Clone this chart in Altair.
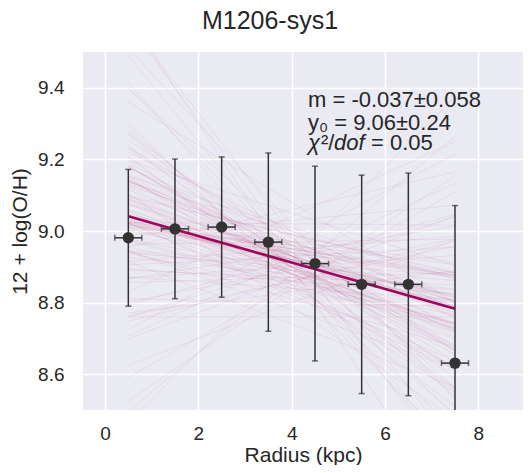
import altair as alt
import pandas as pd

# ---- data ----
radius = [0.5, 1.5, 2.5, 3.5, 4.5, 5.5, 6.5, 7.5]
oh = [8.981, 9.006, 9.011, 8.969, 8.909, 8.851, 8.851, 8.631]
oh_err = [0.191, 0.195, 0.196, 0.249, 0.272, 0.305, 0.311, 0.440]
r_err = [0.29, 0.29, 0.29, 0.29, 0.29, 0.29, 0.29, 0.29]

fit_slope = -0.037
fit_y0 = 9.06
fit_range = [0.5, 7.5]

# posterior sample lines: slope and value at r = 4 kpc
sample_slope = [
    -0.037, -0.052, -0.021, -0.064, -0.009, -0.045, -0.078, 0.004, -0.031, -0.098,
    -0.015, -0.058, 0.021, -0.041, -0.070, -0.027, 0.036, -0.049, -0.112, -0.003,
    -0.060, -0.034, 0.012, -0.086, -0.019, -0.044, 0.049, -0.072, -0.029, -0.055,
    -0.131, -0.011, -0.039, 0.028, -0.066, -0.024, -0.093, 0.007, -0.047, -0.016,
    -0.081, -0.035, 0.061, -0.053, -0.006, -0.068, -0.026, -0.150, 0.017, -0.042,
    -0.075, -0.013, -0.057, 0.040, -0.033, -0.089, -0.001, -0.062, -0.022, -0.106,
    0.025, -0.048, -0.038, -0.071, 0.009, -0.030, -0.121, -0.018, -0.051, 0.074,
    -0.084, -0.040, -0.010, -0.063, 0.032, -0.046, -0.097, -0.028, 0.002, -0.056,
    -0.180, 0.090, -0.140, 0.050, -0.120, 0.110, -0.160, 0.030, -0.100, 0.070,
    -0.200, 0.000, -0.080, 0.130, -0.050, -0.130, 0.060, -0.170, 0.010, -0.090,
    -0.035, -0.045, -0.025, -0.055, -0.040, -0.030, -0.050, -0.020, -0.060, -0.015,
    -0.070, -0.010, -0.036, -0.043, -0.028, -0.052, -0.039, -0.047, -0.032, -0.041,
]
sample_at4 = [
    8.92, 8.88, 8.95, 8.90, 8.84, 8.97, 8.91, 8.87, 8.99, 8.93,
    8.89, 8.82, 8.94, 9.01, 8.90, 8.86, 8.92, 8.96, 8.88, 8.80,
    8.93, 8.91, 9.03, 8.85, 8.95, 8.89, 8.87, 8.98, 8.92, 8.83,
    8.94, 8.90, 9.00, 8.86, 8.91, 8.96, 8.88, 8.93, 8.78, 8.97,
    8.90, 8.85, 8.92, 8.99, 8.87, 8.94, 8.91, 8.89, 8.83, 9.05,
    8.93, 8.88, 8.96, 8.90, 8.86, 8.92, 9.02, 8.84, 8.95, 8.91,
    8.89, 8.97, 8.81, 8.93, 8.90, 8.99, 8.87, 8.94, 8.92, 8.85,
    8.96, 8.88, 8.91, 9.00, 8.86, 8.93, 8.90, 8.84, 8.97, 8.92,
    8.95, 8.84, 9.02, 8.80, 8.98, 8.88, 8.93, 9.06, 8.86, 8.97,
    8.90, 8.76, 9.08, 8.92, 8.74, 8.85, 9.04, 8.99, 8.95, 8.79,
    8.91, 8.93, 8.89, 8.95, 8.87, 8.92, 8.90, 8.94, 8.88, 8.96,
    8.91, 8.86, 8.93, 8.89, 8.92, 8.90, 8.94, 8.88, 8.91, 8.93,
]

x_ticks = [0, 2, 4, 6, 8]
y_ticks = [8.6, 8.8, 9.0, 9.2, 9.4]

# ---- tables ----
pts = pd.DataFrame({"r": radius, "oh": oh, "oe": oh_err, "re": r_err})
pts["lo"] = pts["oh"] - pts["oe"]
pts["hi"] = pts["oh"] + pts["oe"]
pts["rl"] = pts["r"] - pts["re"]
pts["rh"] = pts["r"] + pts["re"]

samp = pd.DataFrame({"m": sample_slope, "c": sample_at4})
samp["x1"] = fit_range[0]
samp["x2"] = fit_range[1]
samp["y1"] = samp["c"] + samp["m"] * (fit_range[0] - 4)
samp["y2"] = samp["c"] + samp["m"] * (fit_range[1] - 4)

fit = pd.DataFrame({"r": fit_range})
fit["y"] = fit_y0 + fit_slope * fit["r"]

FONT = "Liberation Sans"
TXT = "#262626"
LINE = "#A1045C"
PT = "#333333"

W, H = 440, 358

xs = alt.Scale(domain=[-0.471, 8.957], nice=False, zero=False)
ys = alt.Scale(domain=[8.5, 9.5], nice=False, zero=False)

xax = alt.Axis(values=x_ticks, format="d", title="Radius (kpc)", labelPadding=14,
               titleBaseline="alphabetic", titleY=51)
yax = alt.Axis(values=y_ticks, format=".1f", title="12 + log(O/H)", labelPadding=19,
               titleBaseline="middle", titleX=-63)

samples = alt.Chart(samp).mark_rule(color=LINE, opacity=0.065, strokeWidth=1, clip=True).encode(
    x=alt.X("x1:Q", scale=xs, axis=xax),
    y=alt.Y("y1:Q", scale=ys, axis=yax),
    x2="x2:Q",
    y2="y2:Q",
)

fitline = alt.Chart(fit).mark_line(color=LINE, strokeWidth=2.6, clip=True).encode(
    x=alt.X("r:Q", scale=xs),
    y=alt.Y("y:Q", scale=ys),
)

base = alt.Chart(pts)
vbar = base.mark_rule(color=PT, strokeWidth=1.5, clip=True).encode(
    x=alt.X("r:Q", scale=xs), y=alt.Y("lo:Q", scale=ys), y2="hi:Q"
)
hbar = base.mark_rule(color=PT, strokeWidth=1.5, clip=True).encode(
    x=alt.X("rl:Q", scale=xs), x2="rh:Q", y=alt.Y("oh:Q", scale=ys)
)
cap_lo = base.mark_tick(color=PT, size=6, thickness=1.5, orient="horizontal", clip=True).encode(
    x=alt.X("r:Q", scale=xs), y=alt.Y("lo:Q", scale=ys)
)
cap_hi = base.mark_tick(color=PT, size=6, thickness=1.5, orient="horizontal", clip=True).encode(
    x=alt.X("r:Q", scale=xs), y=alt.Y("hi:Q", scale=ys)
)
cap_l = base.mark_tick(color=PT, size=6, thickness=1.5, orient="vertical", clip=True).encode(
    x=alt.X("rl:Q", scale=xs), y=alt.Y("oh:Q", scale=ys)
)
cap_r = base.mark_tick(color=PT, size=6, thickness=1.5, orient="vertical", clip=True).encode(
    x=alt.X("rh:Q", scale=xs), y=alt.Y("oh:Q", scale=ys)
)
dots = base.mark_circle(color=PT, size=130, opacity=1).encode(
    x=alt.X("r:Q", scale=xs), y=alt.Y("oh:Q", scale=ys)
)


def label(txt, px, py, italic=False, size=22, align="left"):
    return alt.Chart(pd.DataFrame({"t": [txt]})).mark_text(
        align=align, baseline="alphabetic", font=FONT, fontSize=size, color=TXT,
        fontStyle="italic" if italic else "normal",
    ).encode(text="t:N", x=alt.value(px), y=alt.value(py))


ann = [
    label("M1206-sys1", 187, -23, size=25, align="center"),
    label("m = -0.037\u00b10.058", 225, 55),
    label("y\u2080 = 9.06\u00b10.24", 225, 78),
    label("\u03c7", 225, 98, italic=True),
    label("\u00b2/", 238, 98),
    label("dof", 251, 98, italic=True),
    label("= 0.05", 288, 98),
]

chart = alt.layer(samples, fitline, vbar, hbar, cap_lo, cap_hi, cap_l, cap_r, dots, *ann).properties(
    width=W,
    height=H,
    padding={"left": 75, "top": 44, "right": 0, "bottom": 55},
    autosize=alt.AutoSizeParams(type="none"),
).configure_view(fill="#EAEAF2", strokeWidth=0).configure_axis(
    grid=True, gridColor="white", gridWidth=1.5, domain=False, ticks=False,
    labelFont=FONT, labelFontSize=19, labelColor=TXT,
    titleFont=FONT, titleFontSize=21, titleFontWeight="normal", titleColor=TXT,
)

chart.save("out.html", embed_options={"renderer": "svg", "actions": False})
